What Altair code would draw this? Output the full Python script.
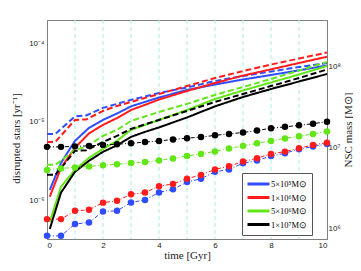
import altair as alt
import pandas as pd

# ---------------- data ----------------
masses = ["5×10⁵M⊙", "1×10⁶M⊙", "5×10⁶M⊙", "1×10⁷M⊙"]
colors = ["#2f4dff", "#ff1c1c", "#62e617", "#000000"]

# disrupted-star rate, solid lines [1/yr]
t_solid = [0.1, 0.5, 1, 1.5, 2, 2.5, 3, 3.5, 4, 5, 6, 7, 8, 9, 10]
rate_solid_5e5 = [1.36e-6, 3.0e-6, 5.73e-6, 8.4e-6, 1.06e-5, 1.28e-5, 1.58e-5, 1.80e-5, 2.05e-5,
                  2.56e-5, 3.0e-5, 3.48e-5, 3.97e-5, 4.56e-5, 5.25e-5]
rate_solid_1e6 = [1.11e-6, 2.59e-6, 4.67e-6, 7.14e-6, 9.16e-6, 1.12e-5, 1.42e-5, 1.65e-5, 1.93e-5,
                  2.48e-5, 3.14e-5, 3.90e-5, 4.69e-5, 5.65e-5, 6.79e-5]
rate_solid_5e6 = [5.3e-7, 1.49e-6, 2.45e-6, 3.48e-6, 4.53e-6, 5.73e-6, 7.91e-6, 9.16e-6, 1.06e-5,
                  1.42e-5, 1.96e-5, 2.52e-5, 3.19e-5, 4.03e-5, 5.17e-5]
rate_solid_1e7 = [4.3e-7, 1.25e-6, 2.31e-6, 3.19e-6, 4.15e-6, 5.02e-6, 6.44e-6, 7.46e-6, 8.51e-6,
                  1.14e-5, 1.58e-5, 2.08e-5, 2.63e-5, 3.28e-5, 4.09e-5]

# disrupted-star rate, dashed lines [1/yr]
t_dash = [0, 0.3, 1, 1.4, 2, 2.5, 3, 4, 5, 6, 7, 8, 9, 10]
rate_dash_5e5 = [7.03e-6, 7.03e-6, 1.175e-5, 1.21e-5, 1.51e-5, 1.70e-5, 1.91e-5, 2.34e-5, 2.75e-5,
                 3.33e-5, 3.85e-5, 4.40e-5, 5.02e-5, 5.65e-5]
rate_dash_1e6 = [5.56e-6, 5.56e-6, 1.06e-5, 1.076e-5, 1.38e-5, 1.60e-5, 1.80e-5, 2.27e-5, 2.87e-5,
                 3.63e-5, 4.46e-5, 5.40e-5, 6.44e-5, 7.68e-5]
rate_dash_5e6 = [2.83e-6, 2.83e-6, 4.40e-6, 4.80e-6, 6.63e-6, 7.91e-6, 1.03e-5, 1.34e-5, 1.70e-5,
                 2.21e-5, 2.79e-5, 3.53e-5, 4.53e-5, 5.81e-5]
rate_dash_1e7 = [2.11e-6, 2.11e-6, 4.27e-6, 4.33e-6, 5.56e-6, 6.63e-6, 8.14e-6, 1.06e-5, 1.38e-5,
                 1.80e-5, 2.27e-5, 2.87e-5, 3.63e-5, 4.67e-5]

# NSC mass, dotted lines with markers [Msun]
t_mass = [0, 0.5, 1, 1.5, 2, 2.5, 3, 3.5, 4, 4.5, 5, 5.5, 6, 6.5, 7, 7.5, 8, 8.5, 9, 9.5, 10]
mass_5e5 = [8.2e5, 8.2e5, 1.15e6, 1.20e6, 1.64e6, 1.67e6, 2.12e6, 2.28e6, 2.82e6, 3.09e6, 3.78e6,
            4.17e6, 5.06e6, 5.43e6, 6.47e6, 6.97e6, 7.96e6, 8.60e6, 9.64e6, 1.04e7, 1.12e7]
mass_1e6 = [1.32e6, 1.32e6, 1.67e6, 1.72e6, 2.11e6, 2.22e6, 2.67e6, 2.81e6, 3.37e6, 3.59e6, 4.17e6,
            4.64e6, 5.43e6, 5.95e6, 6.78e6, 7.46e6, 8.44e6, 9.0e6, 9.9e6, 1.09e7, 1.16e7]
mass_5e6 = [5.35e6, 5.58e6, 5.74e6, 5.91e6, 6.11e6, 6.29e6, 6.53e6, 6.71e6, 7.01e6, 7.42e6, 7.96e6,
            8.44e6, 9.06e6, 9.86e6, 1.06e7, 1.14e7, 1.22e7, 1.31e7, 1.39e7, 1.49e7, 1.60e7]
mass_1e7 = [1.03e7, 1.03e7, 1.045e7, 1.06e7, 1.09e7, 1.11e7, 1.14e7, 1.18e7, 1.22e7, 1.27e7, 1.32e7,
            1.36e7, 1.43e7, 1.49e7, 1.55e7, 1.64e7, 1.75e7, 1.82e7, 1.90e7, 1.99e7, 2.11e7]

t_grid = [1, 2, 3, 4, 5, 6, 7, 8, 9]

# ---------------- tables ----------------
rows = []
for m, s, d in zip(masses,
                   [rate_solid_5e5, rate_solid_1e6, rate_solid_5e6, rate_solid_1e7],
                   [rate_dash_5e5, rate_dash_1e6, rate_dash_5e6, rate_dash_1e7]):
    for t, v in zip(t_solid, s):
        rows.append({"t": t, "v": v, "mass": m, "kind": "solid"})
    for t, v in zip(t_dash, d):
        rows.append({"t": t, "v": v, "mass": m, "kind": "dashed"})
rate_df = pd.DataFrame(rows)

mrows = []
for m, arr in zip(masses, [mass_5e5, mass_1e6, mass_5e6, mass_1e7]):
    for t, v in zip(t_mass, arr):
        mrows.append({"t": t, "M": v, "mass": m})
mass_df = pd.DataFrame(mrows)

grid_df = pd.DataFrame({"t": t_grid})

# ---------------- chart ----------------
xscale = alt.Scale(domain=[0, 10], nice=False)
xaxis = alt.Axis(values=[0, 2, 4, 6, 8, 10], title="time [Gyr]", grid=False, ticks=False,
                 labelPadding=2, titlePadding=0, titleFontSize=11)
color = alt.Color("mass:N", scale=alt.Scale(domain=masses, range=colors), sort=masses)

grid = alt.Chart(grid_df).mark_rule(color="#a8eee4", strokeDash=[4, 3], strokeWidth=1).encode(
    x=alt.X("t:Q", scale=xscale, axis=xaxis)
)

left_axis = alt.Axis(
    orient="left", values=[1e-6, 1e-5, 1e-4], title="disrupted stars [yr⁻¹]", grid=False, ticks=False,
    labelExpr="datum.value < 5e-6 ? '10⁻⁶' : datum.value < 5e-5 ? '10⁻⁵' : '10⁻⁴'",
    labelPadding=3, titlePadding=7, titleFontSize=11, titleY=118,
)
rates = alt.Chart(rate_df).mark_line(strokeWidth=2).encode(
    x=alt.X("t:Q", scale=xscale, axis=xaxis),
    y=alt.Y("v:Q", scale=alt.Scale(type="log", domain=[3.2e-7, 2e-4], nice=False), axis=left_axis),
    color=color.legend(
        title=None, orient="none", legendX=195, legendY=153,
        symbolType="M-1,0H3", symbolStrokeWidth=3, symbolSize=121,
        fillColor="white", strokeColor="#555555",
        padding=4, labelFont="Liberation Serif", labelFontSize=8.5, rowPadding=0.5, labelOffset=11,
    ),
    strokeDash=alt.StrokeDash("kind:N", scale=alt.Scale(domain=["solid", "dashed"],
                                                         range=[[1, 0], [6, 3]]), legend=None),
    detail="kind:N",
)

right_axis = alt.Axis(
    orient="right", values=[1e6, 1e7, 1e8], title="NSC mass [M⊙]", grid=False, ticks=False,
    labelExpr="datum.value < 5e6 ? '10⁶' : datum.value < 5e7 ? '10⁷' : '10⁸'",
    labelPadding=1, titlePadding=2, titleAngle=270, titleBaseline="top", titleFontSize=11,
)
mscale = alt.Scale(type="log", domain=[7.5e5, 3.8e8], nice=False)
mline = alt.Chart(mass_df).mark_line(strokeWidth=1, strokeDash=[4, 2, 1, 2]).encode(
    x=alt.X("t:Q", scale=xscale, axis=xaxis),
    y=alt.Y("M:Q", scale=mscale, axis=right_axis),
    color=color.legend(None),
)
mpts = alt.Chart(mass_df).mark_point(filled=True, size=42, opacity=1).encode(
    x=alt.X("t:Q", scale=xscale, axis=xaxis),
    y=alt.Y("M:Q", scale=mscale, axis=right_axis),
    color=color.legend(None),
)

chart = alt.layer(grid, rates, alt.layer(mline, mpts)).resolve_scale(y="independent").properties(
    width=280, height=219,
    autosize=alt.AutoSizeParams(type="none"),
    padding={"left": 39, "top": 12, "right": 26, "bottom": 24},
).configure_view(stroke="#7f7f7f", strokeWidth=1).configure_axis(
    domainColor="#7f7f7f", labelFont="Liberation Sans", labelFontSize=8, labelColor="#222222",
    titleFont="Liberation Serif", titleFontWeight="normal", titleColor="#222222",
)

chart.save("out.html", embed_options={"renderer": "svg", "actions": False})
